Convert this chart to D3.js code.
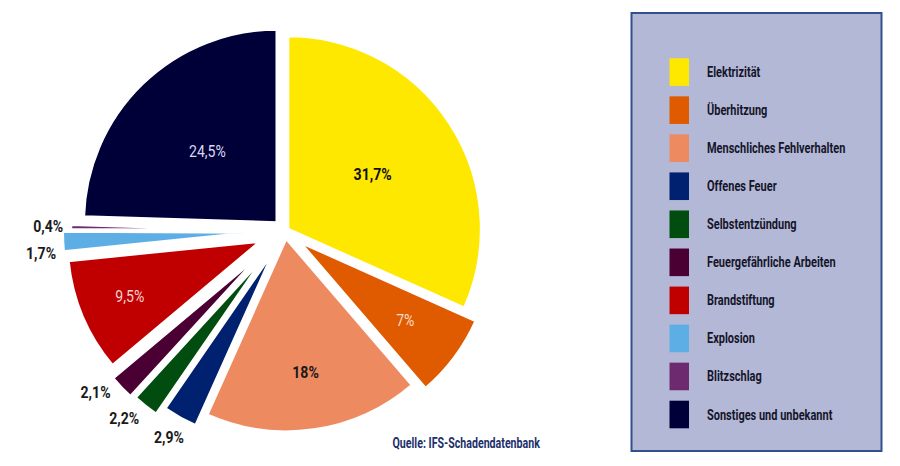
<!DOCTYPE html>
<html>
<head>
<meta charset="utf-8">
<script src="https://cdn.jsdelivr.net/npm/d3@7"></script>
<style>
  html, body { margin: 0; padding: 0; background: #ffffff; }
  svg { display: block; }
  text { font-family: "Roboto", "Noto Sans", sans-serif; }
</style>
</head>
<body>
<div id="chart"></div>
<script>
// ---- data ----
const categories = [
  "Elektrizität",
  "Überhitzung",
  "Menschliches Fehlverhalten",
  "Offenes Feuer",
  "Selbstentzündung",
  "Feuergefährliche Arbeiten",
  "Brandstiftung",
  "Explosion",
  "Blitzschlag",
  "Sonstiges und unbekannt"
];
const values = [31.7, 7, 18, 2.9, 2.2, 2.1, 9.5, 1.7, 0.4, 24.5];
const valueLabels = ["31,7%", "7%", "18%", "2,9%", "2,2%", "2,1%", "9,5%", "1,7%", "0,4%", "24,5%"];
const sourceText = "Quelle: IFS-Schadendatenbank";

// ---- styles ----
const colors = ["#ffe800", "#e05a00", "#ee8a60", "#00216f", "#004d0f", "#4a0033",
                "#c00000", "#5eaee6", "#6e2a6e", "#000038"];
const explodeDist = [3.4, 18, 7.4, 20.8, 30.5, 33, 26.4, 29, 20.8, 11.5];
const labelRadius = [101, 132, 135, 216, 216, 216, 142, 216, 216, 100];
const labelAngleShift = [0, 0, 0, 0, 2.5, 3.8, 0, -2.8, 0, 0];
const labelColor = ["#111111", "#fbdcc6", "#1a1a1a", "#1a1a1a", "#1a1a1a", "#1a1a1a",
                    "#f6d2d2", "#1a1a1a", "#1a1a1a", "#d8d8f2"];
const labelWeight = ["bold", "normal", "bold", "bold", "bold", "bold", "normal", "bold", "bold", "normal"];

const W = 900, H = 466;
const cx = 285, cy = 231, R = 193.5;

const svg = d3.select("#chart").append("svg")
  .attr("width", W).attr("height", H);

svg.append("rect").attr("width", W).attr("height", H).attr("fill", "#ffffff");

const data = categories.map((c, i) => ({ cat: c, value: values[i], label: valueLabels[i], i }));

const pie = d3.pie().sort(null).value(d => d.value).startAngle(0).endAngle(2 * Math.PI);
const arcs = pie(data);
const arc = d3.arc().innerRadius(0).outerRadius(R);

const g = svg.append("g").attr("transform", `translate(${cx},${cy})`);

function polar(angle, dist) {
  return [Math.sin(angle) * dist, -Math.cos(angle) * dist];
}
const mid = a => (a.startAngle + a.endAngle) / 2;

const slices = g.selectAll("g.slice").data(arcs).join("g")
  .attr("class", "slice")
  .attr("transform", d => {
    const [dx, dy] = polar(mid(d), explodeDist[d.index]);
    return `translate(${dx},${dy})`;
  });

slices.append("path")
  .attr("d", arc)
  .attr("fill", d => colors[d.index])
  .attr("stroke", "#ffffff")
  .attr("stroke-width", 3)
  .attr("stroke-linejoin", "miter");

// value labels (condensed via horizontal scale)
slices.append("g")
  .attr("transform", d => {
    const ang = mid(d) + labelAngleShift[d.index] * Math.PI / 180;
    const [x, y] = polar(ang, labelRadius[d.index]);
    return `translate(${x},${y}) scale(0.88,1)`;
  })
  .append("text")
  .attr("text-anchor", "middle")
  .attr("dy", "0.36em")
  .attr("font-size", 16)
  .attr("font-weight", d => labelWeight[d.index])
  .attr("fill", d => labelColor[d.index])
  .text(d => d.data.label);

// ---- source ----
svg.append("g")
  .attr("transform", "translate(392.5,448) scale(0.76,1)")
  .append("text")
  .attr("font-size", 14)
  .attr("font-weight", "bold")
  .attr("fill", "#1b2f6b")
  .text(sourceText);

// ---- legend ----
const lg = svg.append("g");
lg.append("rect")
  .attr("x", 631.5).attr("y", 13).attr("width", 250).attr("height", 438)
  .attr("fill", "#b3b8d6")
  .attr("stroke", "#34508c").attr("stroke-width", 2);

const ly = d3.scalePoint().domain(categories).range([72.1, 414.5]);

const items = lg.selectAll("g.item").data(categories).join("g")
  .attr("class", "item")
  .attr("transform", d => `translate(0,${ly(d)})`);

items.append("rect")
  .attr("x", 669.5).attr("y", -13.8).attr("width", 19.5).attr("height", 27.6)
  .attr("fill", (d, i) => colors[i]);

items.append("g")
  .attr("transform", "translate(707,0) scale(0.785,1)")
  .append("text")
  .attr("dy", "0.36em")
  .attr("font-size", 14)
  .attr("font-weight", "bold")
  .attr("fill", "#15152a")
  .text(d => d);
</script>
</body>
</html>
